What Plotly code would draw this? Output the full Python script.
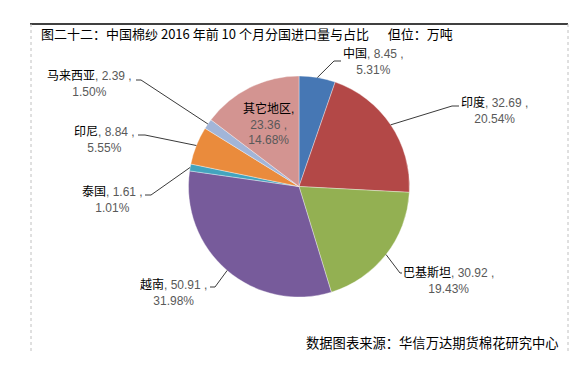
import math
import plotly.graph_objects as go

W, H = 581, 367

# ---- data ----
countries = ["中国", "印度", "巴基斯坦", "越南", "泰国", "印尼", "马来西亚", "其它地区"]
volumes = [8.45, 32.69, 30.92, 50.91, 1.61, 8.84, 2.39, 23.36]
pct_labels = ["5.31%", "20.54%", "19.43%", "31.98%", "1.01%", "5.55%", "1.50%", "14.68%"]
colors = ["#4677B4", "#B34847", "#93B052", "#775B9B", "#43A4BE", "#EA8B3C", "#A2B5D8", "#D39491"]

title_text = "图二十二：中国棉纱 2016 年前 10 个月分国进口量与占比\u3000\u00a0\u00a0但位：万吨"
source_text = "数据图表来源：华信万达期货棉花研究中心"

# ---- layout (pixels) ----
CX, CY, R = 291, 178.5, 110.5
# label block centre and leader elbow (start, elbow) per slice; None = inside label
label_pos = [(365, 54), (486, 102), (440, 273), (165, 284), (104, 192), (97, 132), (81, 76), (260, 116)]
elbows = [((333, 53), (326, 53)), ((451, 98), (444, 98)), ((394, 265), (392, 265)),
          ((202, 279), (207, 279)), ((137, 187), (143, 187)), ((130, 127), (137, 127)),
          ((128, 72), (133, 72)), None]


def px(x):
    return x / W


def py(y):
    return 1 - y / H


fig = go.Figure()
fig.add_trace(go.Pie(
    labels=countries, values=volumes, sort=False, direction="clockwise", rotation=0,
    marker=dict(colors=colors, line=dict(color="rgba(255,255,255,0.6)", width=0.6)),
    textinfo="none", hoverinfo="label+value+percent", showlegend=False,
    domain=dict(x=[px(CX - R), px(CX + R)], y=[py(CY + R), py(CY - R)]),
))

GRAY = "#595959"
total = sum(volumes)
cum = 0.0
shapes = []
annotations = []
for i, (name, v, pct) in enumerate(zip(countries, volumes, pct_labels)):
    mid = (cum + v / 2) / total
    cum += v
    ang = 2 * math.pi * mid
    ex, ey = CX + R * math.sin(ang), CY - R * math.cos(ang)
    lx, ly = label_pos[i]
    if elbows[i] is None:
        txt = (f"{name},<br><span style='color:{GRAY}'>{v:.2f} ,</span><br>"
               f"<span style='color:{GRAY}'>{pct}</span>")
    else:
        txt = (f"{name}<span style='color:{GRAY}'>, {v:.2f} ,</span><br>"
               f"<span style='color:{GRAY}'>{pct}</span>")
        (sx, sy), (bx, by) = elbows[i]
        path = f"M {px(sx)},{py(sy)} L {px(bx)},{py(by)} L {px(ex)},{py(ey)}"
        shapes.append(dict(type="path", xref="paper", yref="paper", path=path,
                           line=dict(color="#3a3a3a", width=1)))
    annotations.append(dict(x=px(lx), y=py(ly), xref="paper", yref="paper", text=txt,
                            showarrow=False, xanchor="center", yanchor="middle", align="center",
                            font=dict(family="Liberation Sans, Noto Sans CJK SC", size=12, color="black")))

annotations.append(dict(x=px(31), y=py(25), xref="paper", yref="paper", text=title_text,
                        showarrow=False, xanchor="left", yanchor="middle",
                        font=dict(family="Noto Sans CJK SC", size=13, color="black")))
annotations.append(dict(x=px(553), y=py(334), xref="paper", yref="paper", text=source_text,
                        showarrow=False, xanchor="right", yanchor="middle",
                        font=dict(family="Noto Sans CJK SC", size=13.3, color="black")))

# frame
shapes.append(dict(type="line", xref="paper", yref="paper", x0=px(22), x1=px(560), y0=py(16), y1=py(16),
                   line=dict(color="black", width=1.5)))
for xx in (23, 560):
    shapes.append(dict(type="line", xref="paper", yref="paper", x0=px(xx), x1=px(xx), y0=py(16), y1=py(344),
                       line=dict(color="#C0C0C0", width=1, dash="dot")))

fig.update_layout(width=W, height=H, margin=dict(l=0, r=0, t=0, b=0),
                  paper_bgcolor="white", plot_bgcolor="white",
                  shapes=shapes, annotations=annotations)
fig.write_html("out.html")
